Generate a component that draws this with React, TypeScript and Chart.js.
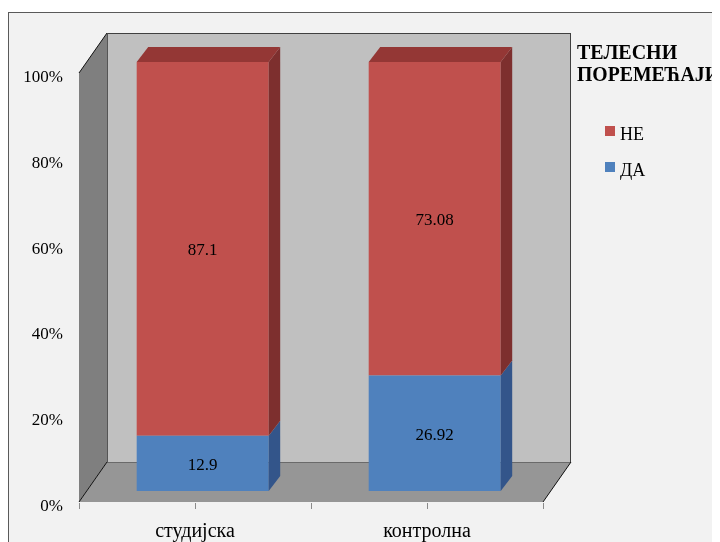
import React, { useEffect, useRef } from 'react';
import { Chart, registerables } from 'chart.js';

Chart.register(...registerables);

const categories = ['студијска', 'контролна'];
const daValues = [12.9, 26.92];
const neValues = [87.1, 73.08];
const yTicks = [0, 20, 40, 60, 80, 100];
const legendTitle = ['ТЕЛЕСНИ', 'ПОРЕМЕЋАЈИ'];

const SERIF = '"Liberation Serif", "Times New Roman", serif';

// 3D geometry: offsets of the front axis plane and the back wall plane
// relative to the plane of the bar front faces, plus the bar depth.
const FRONT = { x: -7.7, y: 11 };
const BACK = { x: 20.3, y: -29 };
const BAR_DEPTH = { x: 11.5, y: -15 };

const faceColors: Record<string, { side: string; top: string }> = {
  '#4f81bd': { side: '#33558a', top: '#3c669a' },
  '#c0504d': { side: '#7d2f2e', top: '#943735' },
};

function poly(ctx: CanvasRenderingContext2D, pts: number[][], fill: string) {
  ctx.beginPath();
  ctx.moveTo(pts[0][0], pts[0][1]);
  for (let i = 1; i < pts.length; i++) ctx.lineTo(pts[i][0], pts[i][1]);
  ctx.closePath();
  ctx.fillStyle = fill;
  ctx.fill();
}

function line(ctx: CanvasRenderingContext2D, x1: number, y1: number, x2: number, y2: number, color: string) {
  ctx.beginPath();
  ctx.moveTo(x1, y1);
  ctx.lineTo(x2, y2);
  ctx.strokeStyle = color;
  ctx.lineWidth = 1;
  ctx.stroke();
}

const scenePlugin = {
  id: 'scene3d',
  beforeDraw(chart: any) {
    const { ctx, width, height } = chart;
    ctx.save();
    ctx.fillStyle = '#ffffff';
    ctx.fillRect(0, 0, width, height);
    ctx.fillStyle = '#f2f2f2';
    ctx.fillRect(0, 4, width, height - 4);
    line(ctx, 0.5, 4, 0.5, height, '#5a5a5a');
    line(ctx, 0, 4.5, width, 4.5, '#5a5a5a');
    ctx.restore();
  },
  beforeDatasetsDraw(chart: any) {
    const { ctx, chartArea, scales } = chart;
    const { left, right, top, bottom } = chartArea;
    const fl = left + FRONT.x, fr = right + FRONT.x, fb = bottom + FRONT.y, ft = top + FRONT.y;
    const bl = left + BACK.x, br = right + BACK.x, bb = bottom + BACK.y, bt = top + BACK.y;
    ctx.save();
    // walls and floor
    poly(ctx, [[bl, bt], [br, bt], [br, bb], [bl, bb]], '#c0c0c0');
    poly(ctx, [[fl, fb], [fl, ft], [bl, bt], [bl, bb]], '#7f7f7f');
    poly(ctx, [[fl, fb], [bl, bb], [br, bb], [fr, fb]], '#969696');
    // edges
    line(ctx, bl, bt + 0.5, br, bt + 0.5, '#404040');
    line(ctx, br - 0.5, bt, br - 0.5, bb, '#404040');
    line(ctx, bl + 0.5, bt, bl + 0.5, bb, '#555555');
    line(ctx, bl, bb + 0.5, br, bb + 0.5, '#6a6a6a');
    line(ctx, fl, ft, bl, bt, '#111111');
    line(ctx, fl, fb, bl, bb, '#111111');
    line(ctx, fr, fb, br, bb, '#111111');

    // category axis ticks on the front edge
    const xs = scales.x;
    const tickXs = [left, xs.getPixelForValue(0), (xs.getPixelForValue(0) + xs.getPixelForValue(1)) / 2, xs.getPixelForValue(1), right];
    tickXs.forEach((tx) => {
      const px = Math.round(tx + FRONT.x) + 0.5;
      line(ctx, px, fb + 1, px, fb + 7, '#8a8a8a');
    });

    // category labels
    ctx.fillStyle = '#000000';
    ctx.font = `20px ${SERIF}`;
    ctx.textAlign = 'center';
    ctx.textBaseline = 'alphabetic';
    categories.forEach((c, i) => {
      ctx.fillText(c, xs.getPixelForValue(i) + FRONT.x, bottom + 45.7);
    });

    // value axis labels
    const ys = scales.y;
    ctx.font = `17px ${SERIF}`;
    ctx.textAlign = 'right';
    ctx.textBaseline = 'middle';
    yTicks.forEach((v) => {
      ctx.fillText(`${v}%`, left - 23.7, ys.getPixelForValue(v) + 15.5);
    });
    ctx.restore();
  },
  afterDatasetsDraw(chart: any) {
    const { ctx } = chart;
    const n = chart.data.datasets.length;
    ctx.save();
    chart.data.datasets.forEach((ds: any, di: number) => {
      const meta = chart.getDatasetMeta(di);
      const cols = faceColors[ds.backgroundColor];
      meta.data.forEach((el: any) => {
        const { x, y, base, width } = el.getProps(['x', 'y', 'base', 'width'], true);
        const x1 = x - width / 2, x2 = x + width / 2;
        const yt = Math.min(y, base), yb = Math.max(y, base);
        poly(ctx, [[x2, yt], [x2 + BAR_DEPTH.x, yt + BAR_DEPTH.y], [x2 + BAR_DEPTH.x, yb + BAR_DEPTH.y], [x2, yb]], cols.side);
        if (di === n - 1) {
          poly(ctx, [[x1, yt], [x1 + BAR_DEPTH.x, yt + BAR_DEPTH.y], [x2 + BAR_DEPTH.x, yt + BAR_DEPTH.y], [x2, yt]], cols.top);
        }
      });
    });
    // value labels
    ctx.fillStyle = '#000000';
    ctx.font = `17px ${SERIF}`;
    ctx.textAlign = 'center';
    ctx.textBaseline = 'middle';
    chart.data.datasets.forEach((ds: any, di: number) => {
      const meta = chart.getDatasetMeta(di);
      meta.data.forEach((el: any, i: number) => {
        const { x, y, base } = el.getProps(['x', 'y', 'base'], true);
        ctx.fillText(String(ds.data[i]), x, (y + base) / 2 + 2);
      });
    });

    // legend
    ctx.font = `bold 20px ${SERIF}`;
    ctx.textAlign = 'left';
    ctx.textBaseline = 'alphabetic';
    ctx.fillText(legendTitle[0], 569, 51);
    ctx.fillText(legendTitle[1], 569, 73, 143);
    ctx.font = `18px ${SERIF}`;
    const items = [...chart.data.datasets].reverse();
    items.forEach((ds: any, i: number) => {
      const sy = 118 + i * 36;
      ctx.fillStyle = ds.backgroundColor;
      ctx.fillRect(597, sy, 10, 10);
      ctx.fillStyle = '#000000';
      ctx.fillText(ds.label, 612, sy + 14);
    });
    ctx.restore();
  },
};

export default function App() {
  const ref = useRef<HTMLCanvasElement>(null);

  useEffect(() => {
    if (!ref.current) return;
    const chart = new Chart(ref.current, {
      type: 'bar',
      data: {
        labels: categories,
        datasets: [
          { label: 'ДА', data: daValues, backgroundColor: '#4f81bd', borderWidth: 0 },
          { label: 'НЕ', data: neValues, backgroundColor: '#c0504d', borderWidth: 0 },
        ],
      },
      options: {
        responsive: false,
        animation: false,
        events: [],
        datasets: { bar: { categoryPercentage: 1, barPercentage: 0.569 } },
        layout: { padding: { left: 78.7, right: 169.3, top: 54, bottom: 51 } },
        scales: {
          x: { stacked: true, display: false },
          y: { stacked: true, display: false, min: 0, max: 100 },
        },
        plugins: { legend: { display: false }, tooltip: { enabled: false } },
      },
      plugins: [scenePlugin],
    });
    return () => chart.destroy();
  }, []);

  return <canvas ref={ref} width={712} height={534} style={{ display: 'block' }} />;
}
